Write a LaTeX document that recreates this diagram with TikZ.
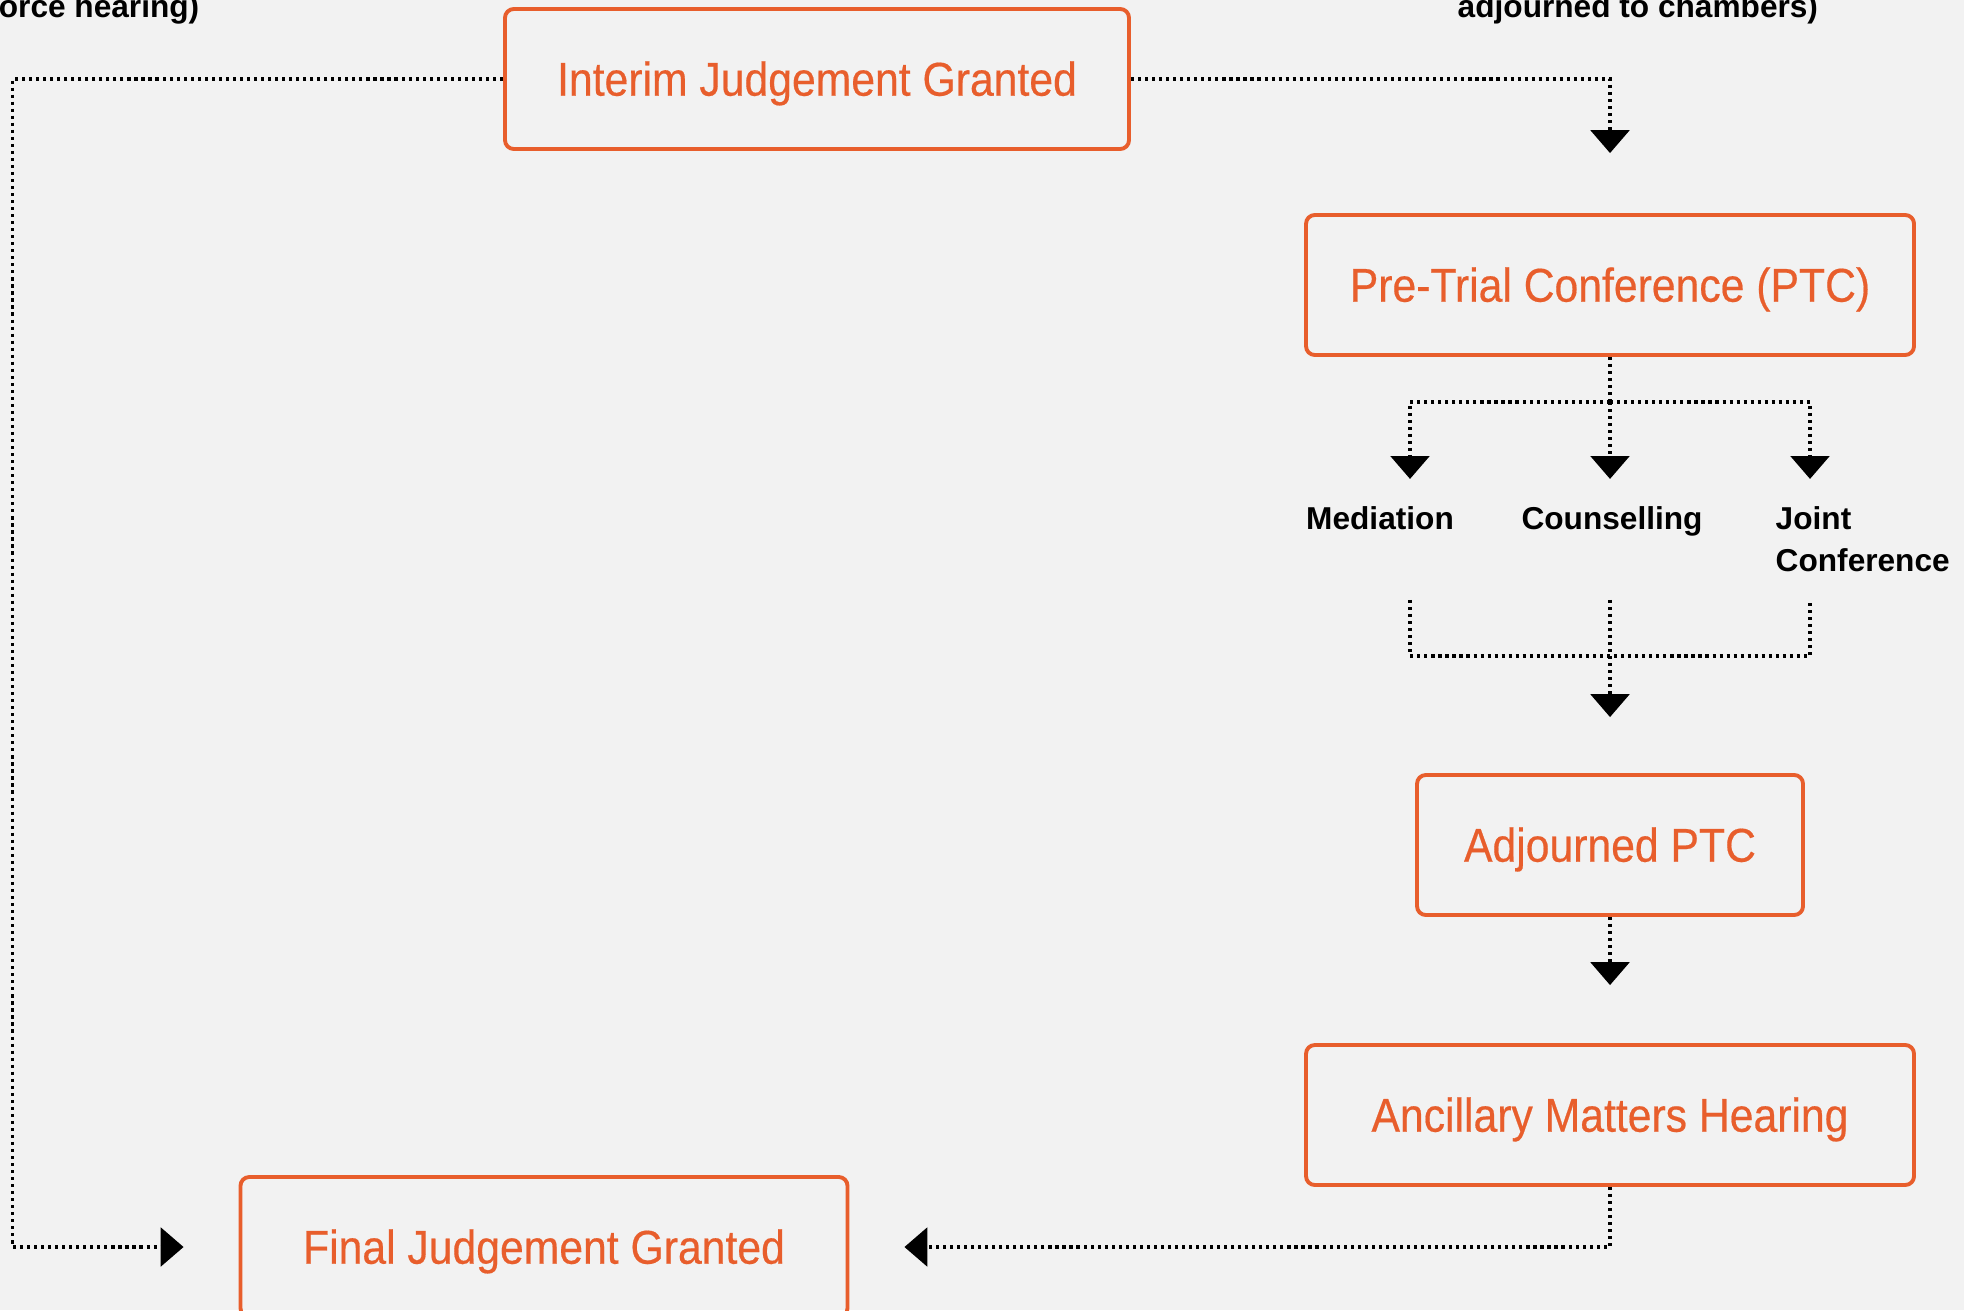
\documentclass[tikz,border=0pt]{standalone}
\usepackage{fontspec}
\setmainfont{Liberation Sans}
\newfontfamily\stagefont[FakeStretch=0.9,FakeBold=0.4]{Liberation Sans}
\usetikzlibrary{arrows.meta,calc}
\definecolor{orng}{RGB}{232,94,44}
\definecolor{bgray}{RGB}{242,242,242}
\tikzset{
	stage/.style={draw=orng, line width=1.1pt, rounded corners=2.5pt, text=orng, minimum height=1.4cm, text height=1.8ex, text depth=0pt, font=\stagefont\fontsize{13.5}{15}\selectfont},
	lbl/.style={inner sep=0pt, font=\fontsize{9}{12}\selectfont\bfseries},
	dotline/.style={line width=0.9pt, dash pattern=on 0.9pt off 1.1pt},
	conn/.style={dotline, -{Triangle[width=11pt,length=6.5pt]}}
}
\begin{document}
\begin{tikzpicture}
	\fill[bgray] (0,0) rectangle (19.64,13.10);
	\useasboundingbox (0,0) rectangle (19.64,13.10);
	% cut-off notes at the top
	\node[lbl, anchor=base east] (notel) at (2.0,12.92) {orce hearing)};
	\node[lbl, anchor=base west] (noter) at (14.57,12.92) {adjourned to chambers)};
	% stages
	\node[stage, minimum width=6.24cm] (interim) at (8.17,12.31) {Interim Judgement Granted};
	\node[stage, minimum width=6.08cm] (ptc) at (16.1,10.25) {Pre-Trial Conference (PTC)};
	\node[stage, minimum width=3.86cm] (adj) at (16.1,4.65) {Adjourned PTC};
	\node[stage, minimum width=6.08cm] (anc) at (16.1,1.95) {Ancillary Matters Hearing};
	\node[stage, minimum width=6.07cm] (final) at (5.44,0.63) {Final Judgement Granted};
	% options after the PTC
	\coordinate (ctip) at ($(ptc.south)+(0,-1.22)$);
	\coordinate (mtip) at ($(ctip)+(-2.0,0)$);
	\coordinate (jtip) at ($(ctip)+(2.0,0)$);
	\node[lbl, anchor=base] (med) at ($(mtip)+(-0.3,-0.51)$) {Mediation};
	\node[lbl, anchor=base] (cou) at ($(ctip)+(0.02,-0.51)$) {Counselling};
	\node[lbl, anchor=base west, align=left] (joint) at ($(jtip)+(-0.35,-0.93)$) {Joint\\Conference};
	\coordinate (ctop) at ($(ctip)+(0,-1.21)$);
	\coordinate (mtop) at ($(mtip)+(0,-1.21)$);
	\coordinate (jtop) at ($(jtip)+(0,-1.21)$);

	\draw[conn, shorten >=0.6cm] (interim.east) -| (ptc.north);
	\draw[conn, shorten >=0.55cm] (interim.west) -| ([xshift=-2.26cm]final.west) -- (final.west);
	\draw[dotline] (ptc.south) -- ++(0,-0.45) coordinate (split);
	\draw[conn] (split) -| (mtip);
	\draw[conn] (split) -- (ctip);
	\draw[conn] (split) -| (jtip);
	\draw[dotline] (mtop) -- ++(0,-0.56) -| (jtop);
	\draw[conn, shorten >=0.56cm] (ctop) -- (adj.north);
	\draw[conn, shorten >=0.58cm] (adj.south) -- (anc.north);
	\draw[conn, shorten >=0.55cm] (anc.south) |- (final.east);
\end{tikzpicture}
\end{document}
